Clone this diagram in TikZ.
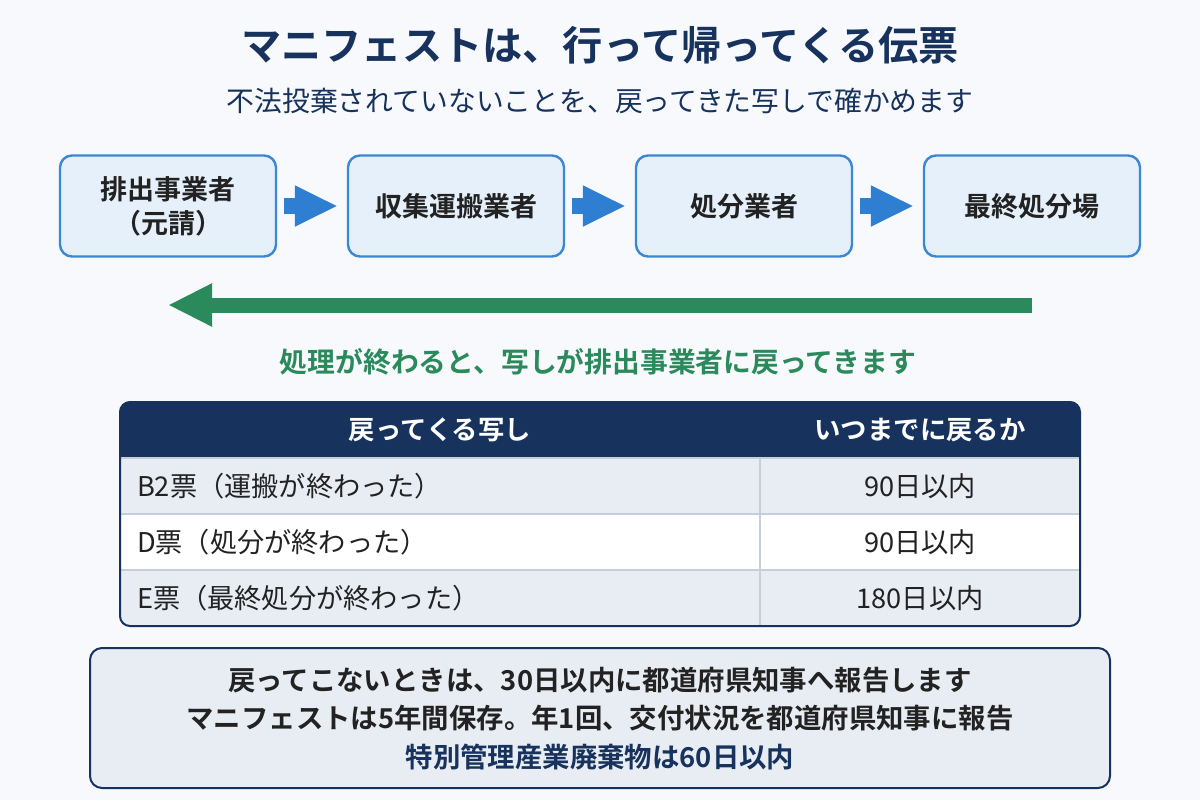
\documentclass[tikz,border=0pt]{standalone}
\usepackage{fontspec}
\setmainfont{Noto Sans CJK JP}[BoldFont={Noto Sans CJK JP Bold}]
\usetikzlibrary{arrows.meta,positioning}
\definecolor{bgcolor}{HTML}{F7F9FC}
\definecolor{navycolor}{HTML}{17325C}
\definecolor{stepfill}{HTML}{E6F0FB}
\definecolor{stepdraw}{HTML}{3B87D6}
\definecolor{flowcolor}{HTML}{2E7FD2}
\definecolor{returncolor}{HTML}{2B8A5C}
\definecolor{rowcolor}{HTML}{E8ECF3}
\definecolor{rulecolor}{HTML}{C5CEDB}
\definecolor{textcolor}{HTML}{222222}

\begin{document}
\begin{tikzpicture}[
    x=0.5pt, y=-0.5pt,
    stepbox/.style={rectangle, draw=stepdraw, fill=stepfill, line width=1.2pt, rounded corners=6pt,
        minimum width=108pt, minimum height=50.5pt, align=center, text=textcolor,
        font=\fontsize{13.5pt}{17pt}\selectfont\bfseries},
    flowarrow/.style={draw=flowcolor, line width=8pt, -{Triangle[length=21.5pt,width=19pt]},
        shorten <=3.5pt, shorten >=4.5pt},
    returnarrow/.style={draw=returncolor, line width=7.5pt, -{Triangle[length=22pt,width=20pt]}},
    headtext/.style={text=white, font=\fontsize{13.2pt}{16pt}\selectfont\bfseries},
    celltext/.style={text=textcolor, font=\fontsize{13.6pt}{16pt}\selectfont},
    notetext/.style={text=textcolor, font=\fontsize{13.7pt}{17pt}\selectfont\bfseries}
]

% background
\fill[bgcolor] (0,0) rectangle (1200,800);

% Title
\node[text=navycolor, font=\fontsize{20.1pt}{24pt}\selectfont\bfseries] (title) at (600,45) {マニフェストは、行って帰ってくる伝票};
\node[text=navycolor, font=\fontsize{13.9pt}{17pt}\selectfont] (subtitle) at (600,101) {不法投棄されていないことを、戻ってきた写しで確かめます};

% Flow of the manifest
\node[stepbox] (emitter) at (168,206) {排出事業者\\（元請）};
\node[stepbox] (carrier) at (456,206) {収集運搬業者};
\node[stepbox] (treater) at (744,206) {処分業者};
\node[stepbox] (landfill) at (1032,206) {最終処分場};

\draw[flowarrow] (emitter) -- (carrier);
\draw[flowarrow] (carrier) -- (treater);
\draw[flowarrow] (treater) -- (landfill);

% Return of the copies
\coordinate (retstart) at (1032,305);
\coordinate (retend) at (168,305);
\draw[returnarrow] (retstart) -- (retend);
\node[text=returncolor, font=\fontsize{13.9pt}{17pt}\selectfont\bfseries] (retlabel) at (598,362) {処理が終わると、写しが排出事業者に戻ってきます};

% Table
\begin{scope}
  \clip[rounded corners=5pt] (120,402) rectangle (1080,626);
  \fill[navycolor] (120,402) rectangle (1080,458);
  \fill[rowcolor] (120,458) rectangle (1080,514);
  \fill[white] (120,514) rectangle (1080,570);
  \fill[rowcolor] (120,570) rectangle (1080,626);
\end{scope}
\draw[rulecolor, line width=0.6pt] (120,458) -- (1080,458);
\draw[rulecolor, line width=0.6pt] (120,514) -- (1080,514);
\draw[rulecolor, line width=0.6pt] (120,570) -- (1080,570);
\draw[rulecolor, line width=0.6pt] (760,458) -- (760,626);
\draw[navycolor, line width=1pt, rounded corners=5pt] (120,402) rectangle (1080,626);

\node[headtext] (headcopy) at (440,430) {戻ってくる写し};
\node[headtext] (headdue) at (920,430) {いつまでに戻るか};

\node[celltext, anchor=west] (rowb) at (130,486) {B2票（運搬が終わった）};
\node[celltext] (dueb) at (920,486) {90日以内};
\node[celltext, anchor=west] (rowd) at (130,542) {D票（処分が終わった）};
\node[celltext] (dued) at (920,542) {90日以内};
\node[celltext, anchor=west] (rowe) at (130,598) {E票（最終処分が終わった）};
\node[celltext] (duee) at (920,598) {180日以内};

% Note box
\draw[navycolor, fill=rowcolor, line width=1pt, rounded corners=6pt] (90,648) rectangle (1110,788);
\node[notetext] (noteone) at (600,680) {戻ってこないときは、30日以内に都道府県知事へ報告します};
\node[notetext] (notetwo) at (600,718) {マニフェストは5年間保存。年1回、交付状況を都道府県知事に報告};
\node[notetext, text=navycolor] (notethree) at (600,757) {特別管理産業廃棄物は60日以内};

\end{tikzpicture}
\end{document}
